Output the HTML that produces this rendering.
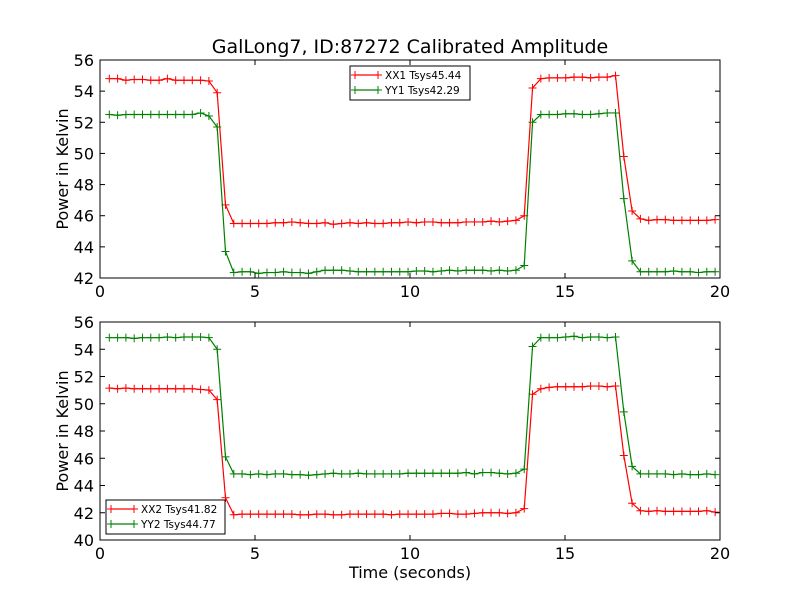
<!DOCTYPE html>
<html><head><meta charset="utf-8"><style>
body{margin:0;background:#fff}
svg{font-family:"DejaVu Sans","Liberation Sans",sans-serif}
</style></head><body>
<svg id="chart" width="800" height="600" viewBox="0 0 800 600"></svg>
<script>
// sample times derived from index: t = T0 + i*DT
const T0 = 0.30, DT = 0.2677;
const xx1 = [54.8,54.8,54.7,54.75,54.75,54.7,54.7,54.8,54.7,54.7,54.7,54.7,54.65,
 53.9,46.7,
 45.5,45.5,45.5,45.5,45.5,45.55,45.55,45.6,45.55,45.5,45.5,45.55,45.45,45.5,45.55,45.5,45.55,45.5,45.5,45.55,45.55,45.6,45.55,45.6,45.6,45.55,45.55,45.55,45.6,45.6,45.6,45.65,45.6,45.65,45.7,
 46.0,54.2,54.8,54.85,54.85,54.85,54.9,54.9,54.85,54.9,54.9,55.0,
 49.8,46.3,45.8,45.7,45.75,45.75,45.7,45.7,45.7,45.7,45.7,45.75];
const yy1 = [52.5,52.45,52.5,52.5,52.5,52.5,52.5,52.5,52.5,52.5,52.5,52.6,52.4,
 51.7,43.7,
 42.35,42.4,42.4,42.3,42.35,42.35,42.4,42.35,42.35,42.3,42.4,42.5,42.5,42.5,42.45,42.4,42.4,42.4,42.4,42.4,42.4,42.4,42.45,42.45,42.4,42.45,42.5,42.45,42.5,42.5,42.5,42.45,42.5,42.45,42.5,
 42.8,52.0,52.5,52.5,52.5,52.55,52.55,52.5,52.5,52.55,52.6,52.6,
 47.1,43.1,42.4,42.4,42.4,42.4,42.45,42.4,42.4,42.35,42.4,42.4];
const xx2 = [51.15,51.1,51.15,51.1,51.1,51.1,51.1,51.1,51.1,51.1,51.1,51.05,51.0,
 50.3,43.1,
 41.85,41.9,41.9,41.9,41.9,41.9,41.9,41.9,41.85,41.85,41.9,41.9,41.85,41.85,41.9,41.9,41.9,41.9,41.9,41.85,41.9,41.9,41.9,41.9,41.9,41.95,41.95,41.9,41.9,41.95,42.0,42.0,42.0,41.95,42.0,
 42.3,50.7,51.1,51.2,51.25,51.25,51.25,51.25,51.3,51.3,51.25,51.3,
 46.2,42.7,42.15,42.1,42.15,42.1,42.1,42.1,42.1,42.1,42.15,42.05];
const yy2 = [54.85,54.85,54.85,54.8,54.85,54.85,54.85,54.9,54.85,54.9,54.9,54.9,54.85,
 54.0,46.1,
 44.85,44.85,44.8,44.85,44.8,44.85,44.85,44.8,44.8,44.75,44.8,44.85,44.9,44.85,44.85,44.9,44.85,44.85,44.85,44.85,44.85,44.9,44.9,44.9,44.9,44.9,44.9,44.9,44.95,44.85,44.95,44.95,44.9,44.85,44.9,
 45.2,54.2,54.85,54.85,54.85,54.9,54.95,54.85,54.9,54.9,54.85,54.9,
 49.4,45.4,44.85,44.85,44.85,44.85,44.8,44.85,44.8,44.8,44.85,44.8];
const xTicks = [0,5,10,15,20];
const yTicks1 = [42,44,46,48,50,52,54,56];
const yTicks2 = [40,42,44,46,48,50,52,54,56];

const NS = "http://www.w3.org/2000/svg";
const svg = document.getElementById('chart');
function el(tag, attrs, parent){const e=document.createElementNS(NS,tag);for(const k in attrs)e.setAttribute(k,attrs[k]);(parent||svg).appendChild(e);return e;}

const L=100,R=720;
function xs(t){return L+(t-0)/(20-0)*(R-L);}

function panel(name, top, bottom, ymin, ymax, yTicks, series, legend, showXLabel){
  const g=el('g',{});
  
  
  const ys=v=>bottom-(v-ymin)/(ymax-ymin)*(bottom-top);
  el('rect',{x:L,y:top,width:R-L,height:bottom-top,fill:'#fff'},g);
  series.forEach(s=>{
    const sg=el('g',{},g);
    
    
    const pts=s.data.map((v,i)=>[xs(T0+i*DT),ys(v)]);
    el('polyline',{points:pts.map(p=>p.join(',')).join(' '),fill:'none',stroke:s.color,'stroke-width':1.2},sg);
    let d='';
    pts.forEach(p=>{d+=`M${p[0]-4},${p[1]}h8M${p[0]},${p[1]-4}v8`;});
    el('path',{d:d,stroke:s.color,'stroke-width':1,fill:'none'},sg);
  });
  // ticks
  const tg=el('g',{},g);
  
  
  xTicks.forEach(t=>{
    const x=xs(t);
    el('line',{x1:x,x2:x,y1:bottom,y2:bottom-5,stroke:'#000'},tg);
    el('line',{x1:x,x2:x,y1:top,y2:top+5,stroke:'#000'},tg);
    const tx=el('text',{x:x,y:bottom+19,'font-size':16,'text-anchor':'middle'},tg);
    tx.textContent=t;
    
    
  });
  yTicks.forEach(v=>{
    const y=ys(v);
    el('line',{x1:L,x2:L+5,y1:y,y2:y,stroke:'#000'},tg);
    el('line',{x1:R,x2:R-5,y1:y,y2:y,stroke:'#000'},tg);
    const tx=el('text',{x:L-6,y:y+6,'font-size':16,'text-anchor':'end'},tg);
    tx.textContent=v;
    
    
  });
  el('rect',{x:L,y:top,width:R-L,height:bottom-top,fill:'none',stroke:'#000','stroke-width':1},tg);
  const yl=el('text',{x:0,y:0,'font-size':16,'text-anchor':'middle',transform:`translate(68,${(top+bottom)/2}) rotate(-90)`},g);
  yl.textContent='Power in Kelvin';
  
  
  // legend
  const lg=el('g',{},g);
  
  
  el('rect',{x:legend.x,y:legend.y,width:legend.w,height:34,fill:'#fff',stroke:'#000','stroke-width':1},lg);
  series.forEach((s,i)=>{
    const y=legend.y+9+i*15;
    const e=el('g',{},lg);
    
    
    el('line',{x1:legend.x+5,x2:legend.x+28,y1:y,y2:y,stroke:s.color,'stroke-width':1.2},e);
    el('path',{d:`M${legend.x+5},${y-4}v8M${legend.x+28},${y-4}v8M${legend.x+1},${y}h4M${legend.x+28},${y}h4`,stroke:s.color},e);
    const tx=el('text',{x:legend.x+35,y:y+4,'font-size':10.5},e);
    tx.textContent=s.label;
  });
}

const title=el('text',{x:410,y:53,'font-size':19,'text-anchor':'middle'});
title.textContent='GalLong7, ID:87272 Calibrated Amplitude';



panel('top-panel',60,278,42,56,yTicks1,
  [{data:xx1,color:'#ff0000',label:'XX1 Tsys45.44'},{data:yy1,color:'#008000',label:'YY1 Tsys42.29'}],
  {x:350,y:66,w:120});
panel('bottom-panel',322,540,40,56,yTicks2,
  [{data:xx2,color:'#ff0000',label:'XX2 Tsys41.82'},{data:yy2,color:'#008000',label:'YY2 Tsys44.77'}],
  {x:106,y:500,w:119});

const xl=el('text',{x:410,y:578,'font-size':16,'text-anchor':'middle'});
xl.textContent='Time (seconds)';


</script>
</body></html>
